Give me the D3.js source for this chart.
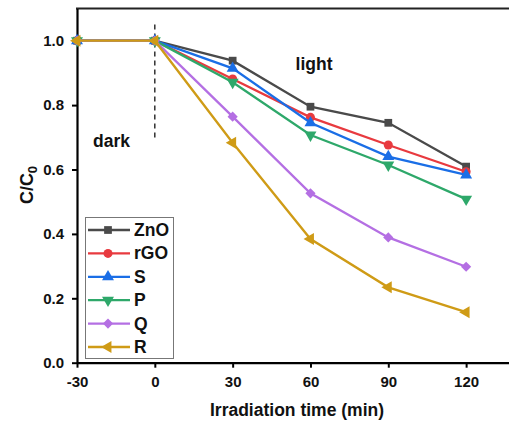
<!DOCTYPE html>
<html><head><meta charset="utf-8">
<script src="https://cdn.jsdelivr.net/npm/d3@7"></script>
<style>body{margin:0;background:#fff;} svg{display:block;font-family:Arial,"Liberation Sans",sans-serif;}</style>
</head><body>
<svg id="c" width="509" height="425"></svg>
<script>
const times = [-30, 0, 30, 60, 90, 120];
const seriesNames = ["ZnO", "rGO", "S", "P", "Q", "R"];
const ZnO = [1.0, 1.0, 0.938, 0.795, 0.745, 0.609];
const rGO = [1.0, 1.0, 0.881, 0.762, 0.676, 0.593];
const S   = [1.0, 1.0, 0.914, 0.745, 0.640, 0.583];
const P   = [1.0, 1.0, 0.871, 0.707, 0.614, 0.508];
const Q   = [1.0, 1.0, 0.764, 0.526, 0.389, 0.298];
const R   = [1.0, 1.0, 0.683, 0.384, 0.234, 0.157];
const xTicks = [-30, 0, 30, 60, 90, 120];
const yTicks = [0.0, 0.2, 0.4, 0.6, 0.8, 1.0];
const colors = ["#4a4a4a", "#e83a3f", "#1a6ee6", "#2ea86a", "#b46fe3", "#cf9b16"];
const symbols = ["square", "circle", "triUp", "triDown", "diamond", "triLeft"];
const allValues = [ZnO, rGO, S, P, Q, R];

const svg = d3.select("#c");
const x = d3.scaleLinear().domain([-30, 140]).range([77, 518]);
const y = d3.scaleLinear().domain([0, 1.1]).range([362.7, 8.5]);

// top border
svg.append("line").attr("x1", 76).attr("x2", 509).attr("y1", y(1.1)).attr("y2", y(1.1))
  .attr("stroke", "#222").attr("stroke-width", 2);

// axes
const xAxis = svg.append("g").attr("transform", `translate(0,${y(0)})`)
  .call(d3.axisBottom(x).tickValues(xTicks).tickSize(5).tickSizeOuter(0).tickFormat(d => String(d)));
const yAxis = svg.append("g").attr("transform", `translate(${x(-30)},0)`)
  .call(d3.axisLeft(y).tickValues(yTicks).tickSize(5).tickSizeOuter(0).tickFormat(d3.format(".1f")));
[xAxis, yAxis].forEach(g => {
  g.select(".domain").attr("stroke", "#000").attr("stroke-width", 2.2);
  g.selectAll(".tick line").attr("stroke", "#000").attr("stroke-width", 2);
  g.selectAll(".tick text").attr("fill", "#111").attr("font-size", 15).attr("font-weight", "bold")
    .attr("font-family", "Arial, 'Liberation Sans', sans-serif");
});
xAxis.selectAll(".tick text").attr("y", 14);
yAxis.selectAll(".tick text").attr("dx", "-5px");

// dashed vertical divider
svg.append("line").attr("x1", x(0)).attr("x2", x(0)).attr("y1", y(1.05)).attr("y2", y(0.69))
  .attr("stroke", "#111").attr("stroke-width", 1.3).attr("stroke-dasharray", "5,4");

function markerPath(sym) {
  if (sym === "square") return d3.symbol(d3.symbolSquare, 60)();
  if (sym === "circle") return d3.symbol(d3.symbolCircle, 64)();
  if (sym === "diamond") return d3.symbol(d3.symbolSquare, 52)();
  return d3.symbol(d3.symbolTriangle, 62)();
}
function markerRot(sym) {
  if (sym === "triDown") return 180;
  if (sym === "triLeft") return -90;
  if (sym === "diamond") return 45;
  return 0;
}

const line = d3.line().x((d, i) => x(times[i])).y(d => y(d));
allValues.forEach((vals, k) => {
  const g = svg.append("g");
  g.append("path").attr("d", line(vals)).attr("fill", "none")
    .attr("stroke", colors[k]).attr("stroke-width", 2.3);
  g.selectAll("path.m").data(vals).join("path").attr("class", "m")
    .attr("d", markerPath(symbols[k]))
    .attr("transform", (d, i) => `translate(${x(times[i])},${y(d)}) rotate(${markerRot(symbols[k])})`)
    .attr("fill", colors[k]);
});

// annotations
svg.append("text").attr("x", 314).attr("y", 70).attr("text-anchor", "middle")
  .attr("font-size", 17.5).attr("font-weight", "bold").attr("fill", "#111").text("light");
svg.append("text").attr("x", 111.5).attr("y", 147).attr("text-anchor", "middle")
  .attr("font-size", 17.5).attr("font-weight", "bold").attr("fill", "#111").text("dark");

// legend
const lg = svg.append("g");
lg.append("rect").attr("x", 85.5).attr("y", 217.5).attr("width", 88).attr("height", 141)
  .attr("fill", "#fff").attr("stroke", "#777").attr("stroke-width", 1);
seriesNames.forEach((name, k) => {
  const yy = 230 + k * 23.4;
  lg.append("line").attr("x1", 88).attr("x2", 130).attr("y1", yy).attr("y2", yy)
    .attr("stroke", colors[k]).attr("stroke-width", 2.3);
  lg.append("path").attr("d", markerPath(symbols[k]))
    .attr("transform", `translate(108,${yy}) rotate(${markerRot(symbols[k])})`).attr("fill", colors[k]);
  lg.append("text").attr("x", 134).attr("y", yy + 6).attr("font-size", 17.5).attr("font-weight", "bold")
    .attr("fill", "#111").text(name);
});

// axis titles
svg.append("text").attr("x", 297).attr("y", 416).attr("text-anchor", "middle")
  .attr("font-size", 17.5).attr("font-weight", "bold").attr("fill", "#111").text("Irradiation time (min)");
const yt = svg.append("text").attr("transform", "translate(33,185) rotate(-90)").attr("text-anchor", "middle")
  .attr("font-size", 18).attr("font-weight", "bold").attr("fill", "#111");
yt.append("tspan").text("C/C");
yt.append("tspan").attr("font-size", 13).attr("dy", 4).text("0");
</script>
</body></html>
